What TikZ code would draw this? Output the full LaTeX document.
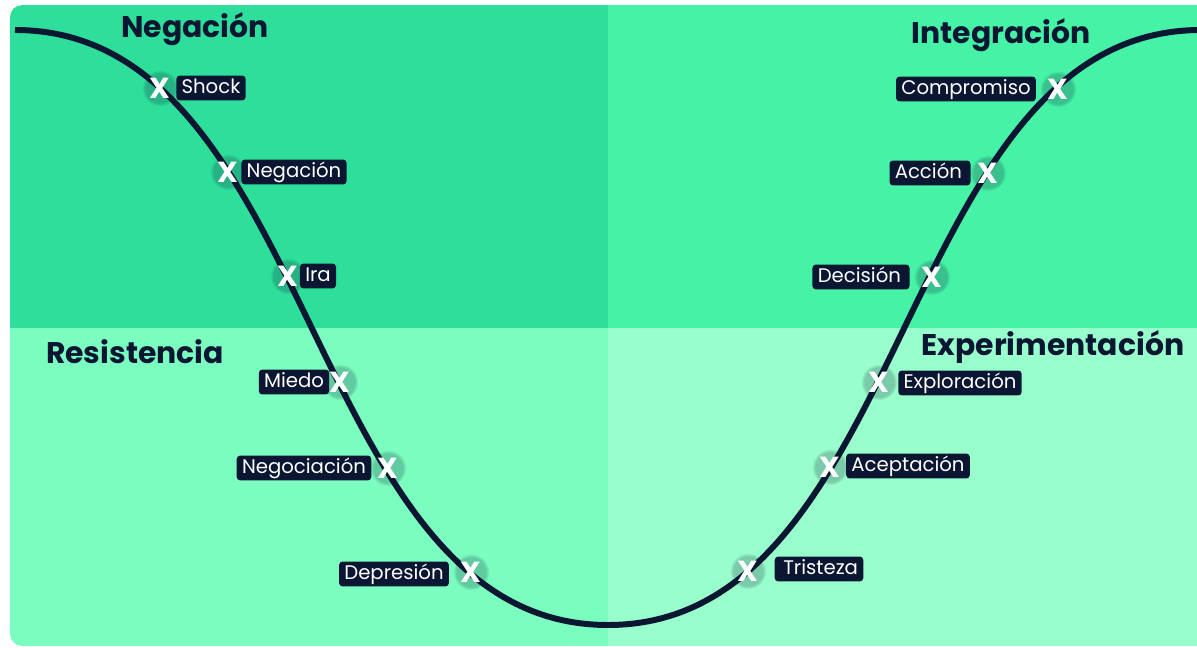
\documentclass[tikz,border=0pt]{standalone}
\usepackage{fontspec}
\setmainfont{Poppins}
\usepackage{tikz}
\usetikzlibrary{fadings}

\definecolor{navy}{HTML}{0B1633}
\definecolor{quadA}{HTML}{2EDF9B}
\definecolor{quadB}{HTML}{45F2A6}
\definecolor{quadC}{HTML}{7AFDBF}
\definecolor{quadD}{HTML}{98FECC}

\begin{document}
\begin{tikzpicture}[x=0.02cm,y=-0.02cm,
  stage/.style={fill=navy,text=white,rounded corners=2pt,inner xsep=3pt,inner ysep=1.5pt,
    text height=8.5pt,text depth=2.7pt,font=\fontsize{11.2}{13}\selectfont},
  cross/.style={circle,text=white,inner sep=1.5pt,fill=navy,fill opacity=0.22,text opacity=1,
    path fading=circle with fuzzy edge 20 percent,font=\fontsize{16.5}{18}\selectfont\bfseries},
  phase/.style={text=navy,font=\fontsize{17}{20}\selectfont\bfseries}]
\useasboundingbox (0,0) rectangle (1197,648);
% the four quadrants
\begin{scope}
\clip[rounded corners=7pt] (10,5) rectangle (1215,646);
\fill[quadA] (10,5) rectangle (608,328);
\fill[quadB] (608,5) rectangle (1215,328);
\fill[quadC] (10,328) rectangle (608,646);
\fill[quadD] (608,328) rectangle (1215,646);
\end{scope}
% phase titles
\node[phase] (tNeg) at (195,29) {Negación};
\node[phase] (tInt) at (1001,35) {Integración};
\node[phase] (tRes) at (135,352) {Resistencia};
\node[phase] (tExp) at (1053,347) {Experimentación};
% change curve
\coordinate (start) at (15,30);
\coordinate (bottom) at (608,625);
\coordinate (end) at (1201,30);
\draw[navy,line width=3.4pt] (start) .. controls (319,30) and (304,625) .. (bottom)
  .. controls (912,625) and (897,30) .. (end);
% marks on the curve
\node[cross] (xShock) at (160,88) {X};
\node[cross] (xNeg) at (228,172) {X};
\node[cross] (xIra) at (288,276) {X};
\node[cross] (xMie) at (340,382) {X};
\node[cross] (xNgc) at (388,468) {X};
\node[cross] (xDep) at (471,572) {X};
\node[cross] (xTri) at (748,571) {X};
\node[cross] (xAce) at (830,467) {X};
\node[cross] (xExp) at (879,382) {X};
\node[cross] (xDec) at (932,277) {X};
\node[cross] (xAcc) at (988,173) {X};
\node[cross] (xCom) at (1058,89) {X};
% stage labels
\node[stage] (lShock) at (211,88) {Shock};
\node[stage] (lNeg) at (294,172) {Negación};
\node[stage] (lIra) at (318,276) {Ira};
\node[stage] (lMie) at (294,382) {Miedo};
\node[stage] (lNgc) at (304,468) {Negociación};
\node[stage] (lDep) at (394,574) {Depresión};
\node[stage] (lTri) at (819,569) {\,Tristeza};
\node[stage] (lAce) at (908,466) {Aceptación};
\node[stage] (lExp) at (960,383) {Exploración};
\node[stage] (lDec) at (861,277) {Decisión\,};
\node[stage] (lAcc) at (930,173) {Acción\,};
\node[stage] (lCom) at (966,89) {Compromiso};
\end{tikzpicture}
\end{document}
